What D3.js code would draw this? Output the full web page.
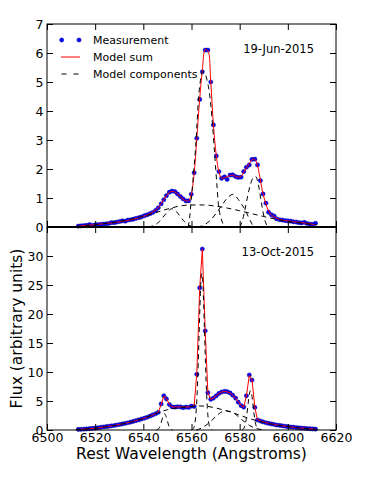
<!DOCTYPE html>
<html><head><meta charset="utf-8">
<script src="https://cdn.jsdelivr.net/npm/d3@7"></script>
<style>body{margin:0;background:#fff}svg{display:block}text{font-family:"DejaVu Sans",sans-serif;fill:#000}</style>
</head><body>
<script>
// ---------- data ----------
const wavelengths = [6513.0,6514.1,6515.3,6516.4,6517.6,6518.7,6519.9,6521.0,6522.2,6523.3,6524.5,6525.6,6526.7,6527.9,6529.0,6530.2,6531.3,6532.5,6533.6,6534.8,6535.9,6537.0,6538.2,6539.3,6540.5,6541.6,6542.8,6543.9,6545.1,6546.2,6547.4,6548.5,6549.6,6550.8,6551.9,6553.1,6554.2,6555.4,6556.5,6557.7,6558.8,6559.9,6561.1,6562.2,6563.4,6564.5,6565.7,6566.8,6568.0,6569.1,6570.3,6571.4,6572.5,6573.7,6574.8,6576.0,6577.1,6578.3,6579.4,6580.6,6581.7,6582.8,6584.0,6585.1,6586.3,6587.4,6588.6,6589.7,6590.9,6592.0,6593.2,6594.3,6595.4,6596.6,6597.7,6598.9,6600.0,6601.2,6602.3,6603.5,6604.6,6605.7,6606.9,6608.0,6609.2,6610.3,6611.5];

const junMeasured = [0.03,0.04,0.05,0.06,0.08,0.06,0.07,0.08,0.09,0.10,0.11,0.12,0.15,0.15,0.17,0.19,0.21,0.20,0.24,0.25,0.27,0.30,0.32,0.35,0.39,0.42,0.46,0.50,0.57,0.66,0.80,0.94,1.08,1.20,1.24,1.22,1.14,1.05,0.97,0.90,0.90,1.13,1.87,3.06,4.40,5.35,6.10,6.10,5.00,3.52,2.45,1.91,1.68,1.73,1.64,1.79,1.80,1.74,1.71,1.72,1.91,2.06,2.14,2.33,2.34,2.14,1.60,1.14,0.82,0.51,0.42,0.38,0.28,0.25,0.24,0.22,0.21,0.20,0.18,0.17,0.15,0.14,0.16,0.12,0.10,0.09,0.13];
const junModelSum = [0.03,0.04,0.05,0.06,0.07,0.07,0.08,0.09,0.10,0.11,0.12,0.13,0.14,0.15,0.17,0.18,0.20,0.21,0.23,0.25,0.27,0.29,0.32,0.35,0.38,0.42,0.46,0.51,0.58,0.68,0.81,0.95,1.09,1.19,1.23,1.21,1.14,1.05,0.96,0.90,0.90,1.12,1.85,3.05,4.42,5.40,6.12,6.08,4.98,3.52,2.46,1.90,1.68,1.70,1.73,1.77,1.78,1.75,1.72,1.75,1.88,2.05,2.18,2.32,2.33,2.12,1.62,1.14,0.80,0.55,0.42,0.35,0.30,0.26,0.24,0.22,0.21,0.20,0.18,0.17,0.16,0.15,0.14,0.12,0.11,0.09,0.08];

const octMeasured = [0.10,0.12,0.15,0.18,0.22,0.27,0.32,0.38,0.45,0.52,0.58,0.64,0.70,0.78,0.86,0.95,1.05,1.15,1.25,1.37,1.50,1.62,1.76,1.90,2.05,2.20,2.40,2.60,2.80,3.05,4.50,5.90,5.35,4.40,4.00,3.95,4.00,3.98,3.85,3.95,3.90,4.10,4.05,9.60,24.5,31.2,17.1,6.44,5.29,5.50,5.90,6.30,6.55,6.65,6.60,6.40,6.00,5.50,4.80,4.20,3.95,5.90,9.48,8.60,3.90,1.72,1.55,1.40,1.25,1.15,1.05,0.95,0.85,0.80,0.72,0.65,0.58,0.52,0.48,0.42,0.38,0.33,0.30,0.25,0.22,0.18,0.15];
const octModelSum = [0.10,0.12,0.15,0.18,0.22,0.27,0.32,0.38,0.44,0.51,0.57,0.64,0.71,0.78,0.86,0.95,1.05,1.15,1.26,1.38,1.50,1.63,1.77,1.91,2.06,2.22,2.40,2.60,2.82,3.10,4.40,5.85,5.40,4.45,4.02,3.95,3.97,3.98,3.95,3.95,3.97,4.05,4.20,9.70,24.4,31.2,17.0,6.40,5.30,5.50,5.92,6.30,6.55,6.65,6.58,6.38,6.00,5.50,4.85,4.25,3.95,5.90,9.40,8.70,3.90,1.78,1.56,1.40,1.26,1.15,1.05,0.96,0.87,0.80,0.72,0.65,0.58,0.52,0.47,0.42,0.37,0.33,0.29,0.25,0.22,0.18,0.15];

// model components, 19-Jun-2015
const junBroadWl  = [6512,6516,6520,6525,6530,6535,6540,6545,6550,6555,6560,6565,6570,6575,6580,6585,6590,6595,6600,6605,6610,6612];
const junBroadVal = [0.02,0.05,0.08,0.13,0.19,0.27,0.37,0.49,0.62,0.72,0.76,0.76,0.72,0.65,0.56,0.46,0.36,0.27,0.19,0.14,0.09,0.08];
const junN1Wl  = [6542,6544,6546,6548,6550,6551.8,6553.5,6555,6557,6559,6561];
const junN1Val = [0,0.04,0.14,0.32,0.52,0.63,0.55,0.40,0.19,0.06,0];
const junHaWl  = [6558.6,6559.2,6559.9,6560.8,6561.9,6562.8,6563.7,6564.7,6565.6,6566.5,6567.3,6568.1,6569.5,6570.5,6571.1,6572.5,6573.9];
const junHaVal = [0,0.3,0.95,1.8,2.97,4.3,5.05,5.36,5.3,5.05,4.7,4.15,2.65,1.5,0.85,0.24,0];
const junMidWl  = [6562.5,6565,6568,6570.5,6573,6575.5,6577.3,6579,6580.5,6582.2,6584,6585.8];
const junMidVal = [0,0.06,0.25,0.5,0.8,1.05,1.13,1.0,0.82,0.6,0.28,0];
const junN2Wl  = [6580,6581,6582.2,6583.4,6584.6,6585.6,6586.7,6587.8,6589,6590.4,6591.7];
const junN2Val = [0,0.18,0.6,1.1,1.5,1.7,1.74,1.45,0.85,0.25,0];

// model components, 13-Oct-2015
const octBroadWl  = [6512,6516,6520,6525,6530,6535,6540,6545,6550,6555,6560,6563,6566,6570,6575,6580,6585,6590,6595,6600,6605,6610,6612];
const octBroadVal = [0.1,0.18,0.33,0.58,0.93,1.4,2.0,2.8,3.5,3.85,4.05,4.15,4.1,3.8,3.25,2.55,1.85,1.3,0.88,0.58,0.36,0.2,0.15];
const octN1Wl  = [6545.5,6546.3,6547,6547.7,6548.3,6548.8,6549.3,6549.9,6550.6,6551.3,6552.1];
const octN1Val = [0,0.2,0.7,1.7,2.5,2.8,2.5,1.7,0.7,0.2,0];
const octHaWl  = [6560,6560.8,6561.3,6561.8,6562.3,6562.8,6563.3,6563.8,6564.3,6564.8,6565.3,6565.8,6566.3,6566.8,6567.3,6567.8,6568.6];
const octHaVal = [0.03,0.26,0.9,2.55,5.95,11.6,18.5,24.6,27,24.6,18.5,11.6,5.95,2.55,0.9,0.26,0.03];
const octMidWl  = [6562,6564,6566,6568,6570,6572,6574,6576,6578,6580,6582,6584,6586,6588,6590];
const octMidVal = [0,0.3,0.8,1.5,2.3,3.0,3.3,3.2,2.8,2.1,1.4,0.8,0.4,0.15,0.03];
const octN2Wl  = [6581,6581.5,6582,6582.5,6583,6583.5,6584,6584.5,6585,6585.5,6586,6586.5,6587,6587.5,6588];
const octN2Val = [0.04,0.17,0.51,1.3,2.68,4.5,6.13,6.8,6.13,4.5,2.68,1.3,0.51,0.17,0.04];

const xTicks = [6500,6520,6540,6560,6580,6600,6620];
const junYTicks = [0,1,2,3,4,5,6,7];
const octYTicks = [0,5,10,15,20,25,30,35];
const legendLabels = ["Measurement","Model sum","Model components"];
const panelLabels = ["19-Jun-2015","13-Oct-2015"];

// ---------- drawing ----------
const W=374,H=478, L=47, R=336, T=24, M=227, B=430;
const svg=d3.select("body").append("svg").attr("width",W).attr("height",H);
const x=d3.scaleLinear().domain([6500,6620]).range([L,R]);
const y1=d3.scaleLinear().domain([0,7]).range([M,T]);
const y2=d3.scaleLinear().domain([0,35]).range([B,M]);

const zip=(a,b)=>a.map((v,i)=>[v,b[i]]);
const TICK=6, FS=12.5;

function panel(y, yTicks, meas, model, comps, label, labelY, showXLabels, curve, yFmt){
  const g=svg.append("g");
  const lineComp=d3.line().x(d=>x(d[0])).y(d=>y(d[1])).curve(d3.curveMonotoneX);
  g.selectAll("circle").data(zip(wavelengths,meas)).join("circle")
    .attr("cx",d=>x(d[0])).attr("cy",d=>y(d[1])).attr("r",2.1)
    .attr("fill","#0000ff").attr("stroke","#00009a").attr("stroke-width",0.5);
  g.append("path").attr("d",d3.line().x(d=>x(d[0])).y(d=>y(d[1])).curve(curve)(zip(wavelengths,model)))
    .attr("fill","none").attr("stroke","#ff0000").attr("stroke-width",1);
  comps.forEach(c=>{
    g.append("path").attr("d",lineComp(zip(c[0],c[1])))
      .attr("fill","none").attr("stroke","#000").attr("stroke-width",1).attr("stroke-dasharray","5,4");
  });
  const top=y.range()[1], bot=y.range()[0];
  const ax=(gen,tr)=>{const a=svg.append("g").attr("transform",tr).call(gen);a.select(".domain").remove();
     a.selectAll("line").attr("stroke","#000");a.selectAll("text").attr("font-size",FS).attr("font-family","DejaVu Sans");return a;};
  ax(d3.axisTop(x).tickValues(xTicks).tickSizeInner(-TICK).tickSizeOuter(0).tickFormat(""),`translate(0,${top})`);
  ax(d3.axisBottom(x).tickValues(xTicks).tickSizeInner(-TICK).tickSizeOuter(0).tickPadding(3.5)
      .tickFormat(showXLabels?d3.format("d"):""),`translate(0,${bot})`);
  ax(d3.axisLeft(y).tickValues(yTicks).tickSizeInner(-TICK).tickSizeOuter(0).tickPadding(3.5).tickFormat(yFmt),`translate(${L},0)`);
  ax(d3.axisRight(y).tickValues(yTicks).tickSizeInner(-TICK).tickSizeOuter(0).tickFormat(""),`translate(${R},0)`);
  svg.append("rect").attr("x",L).attr("y",top).attr("width",R-L).attr("height",bot-top)
    .attr("fill","none").attr("stroke","#000").attr("stroke-width",1);
  svg.append("text").attr("x",314).attr("y",labelY).attr("text-anchor","end").attr("font-size",11.5).text(label);
}

panel(y1,junYTicks,junMeasured,junModelSum,
  [[junBroadWl,junBroadVal],[junN1Wl,junN1Val],[junHaWl,junHaVal],[junMidWl,junMidVal],[junN2Wl,junN2Val]],
  panelLabels[0],53,false,d3.curveCatmullRom,d3.format("d"));
panel(y2,octYTicks,octMeasured,octModelSum,
  [[octBroadWl,octBroadVal],[octN1Wl,octN1Val],[octHaWl,octHaVal],[octMidWl,octMidVal],[octN2Wl,octN2Val]],
  panelLabels[1],256,true,d3.curveLinear,d=>d===35?"":d3.format("d")(d));

svg.append("line").attr("x1",L).attr("x2",R).attr("y1",M).attr("y2",M).attr("stroke","#000").attr("stroke-width",2);

// legend
const lg=svg.append("g").attr("font-size",11);
[61.7,79].forEach(cx=>lg.append("circle").attr("cx",cx).attr("cy",40).attr("r",2.1)
   .attr("fill","#0000ff").attr("stroke","#00009a").attr("stroke-width",0.5));
lg.append("line").attr("x1",61).attr("x2",80).attr("y1",57).attr("y2",57).attr("stroke","#ff0000").attr("stroke-width",1);
lg.append("line").attr("x1",61.5).attr("x2",80).attr("y1",74).attr("y2",74).attr("stroke","#000").attr("stroke-width",1).attr("stroke-dasharray","5,7");
legendLabels.forEach((t,i)=>lg.append("text").attr("x",93).attr("y",44+17*i).text(t));

// axis titles
svg.append("text").attr("x",(L+R)/2).attr("y",459).attr("text-anchor","middle").attr("font-size",15.5).text("Rest Wavelength (Angstroms)");
svg.append("text").attr("transform",`translate(22,${(M+B)/2}) rotate(-90)`).attr("text-anchor","middle").attr("font-size",15.5).text("Flux (arbitrary units)");
</script>
</body></html>
